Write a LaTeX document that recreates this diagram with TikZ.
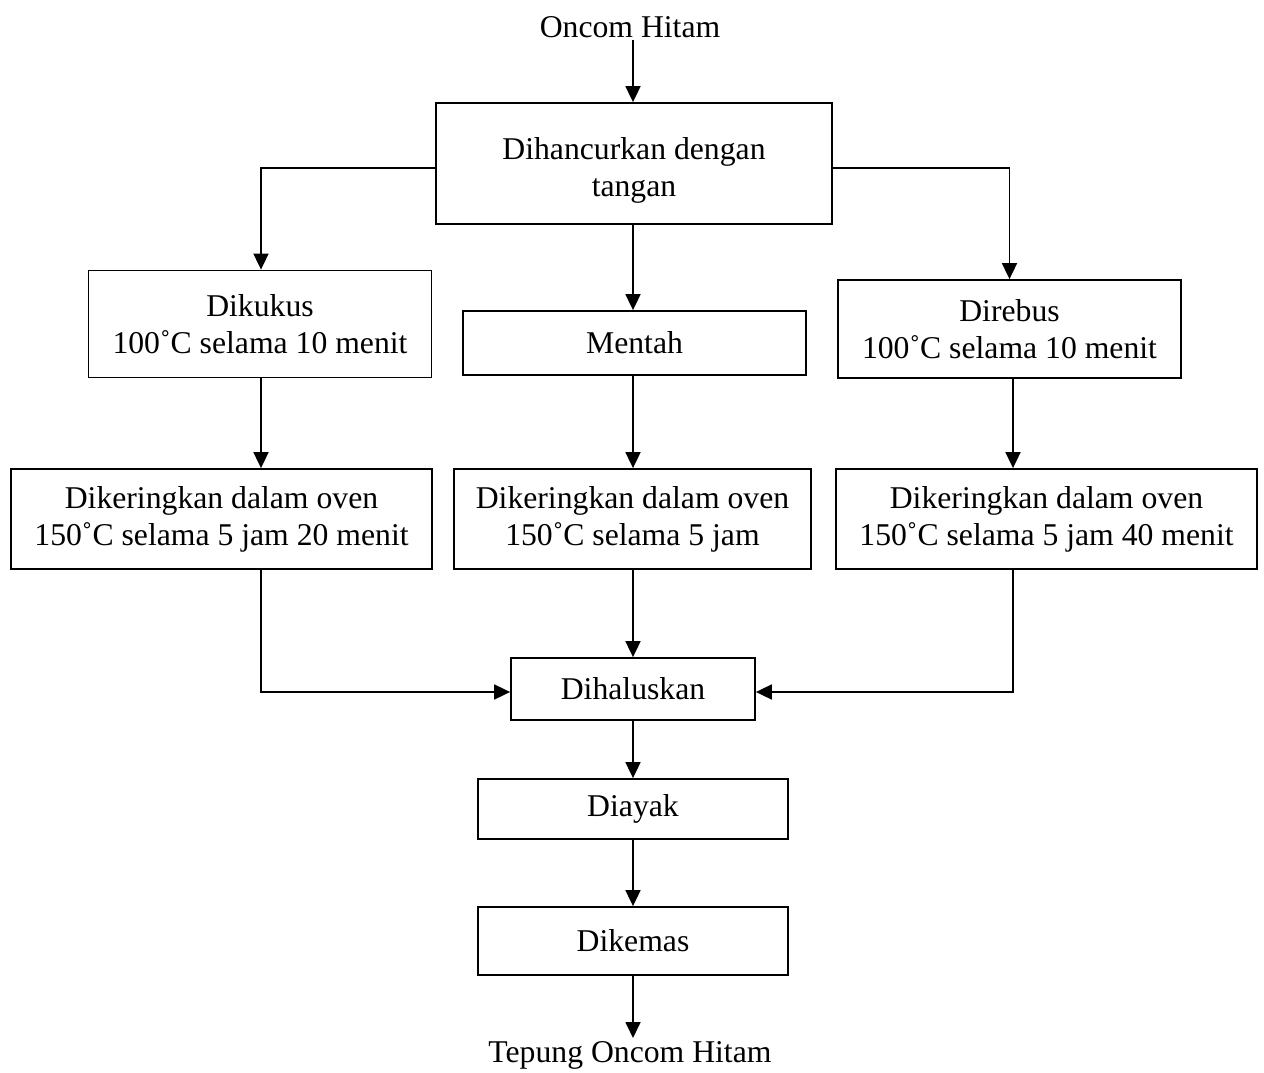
\documentclass[tikz,border=0pt]{standalone}
\usepackage{fontspec}
\setmainfont{Liberation Serif}
\usetikzlibrary{arrows.meta,positioning}
\tikzset{
  box/.style={draw, line width=1.8pt, align=center, inner sep=0pt, font=\fontsize{31.7}{37}\selectfont},
  lbl/.style={align=center, inner sep=0pt, font=\fontsize{31.7}{37}\selectfont},
  arr/.style={line width=1.8pt, -{Triangle[length=16pt,width=15pt]}},
  ln/.style={line width=1.8pt}
}
\begin{document}
\begin{tikzpicture}[x=1pt,y=-1pt]
\useasboundingbox (0,0) rectangle (1264,1073);
\node[lbl] (oncom) at (630,27) {Oncom Hitam};
\node[box, minimum width=396pt, minimum height=121pt] (top) at (634,163.5) {\rule{0pt}{36pt}Dihancurkan dengan\\tangan};
\node[box, minimum width=343pt, minimum height=107pt] (dikukus) at (260,324) {Dikukus\\100˚C selama 10 menit};
\node[box, minimum width=343pt, minimum height=64pt] (mentah) at (634.5,343) {Mentah};
\node[box, minimum width=343pt, minimum height=98pt] (direbus) at (1009.5,329) {Direbus\\100˚C selama 10 menit};
\node[box, minimum width=421pt, minimum height=100pt] (dka) at (221.5,519) {Dikeringkan dalam oven\\150˚C selama 5 jam 20 menit};
\node[box, minimum width=357pt, minimum height=100pt] (dkb) at (632.5,519) {Dikeringkan dalam oven\\150˚C selama 5 jam};
\node[box, minimum width=421pt, minimum height=100pt] (dkc) at (1046.5,519) {Dikeringkan dalam oven\\150˚C selama 5 jam 40 menit};
\node[box, minimum width=244pt, minimum height=62pt] (halus) at (633,689) {Dihaluskan};
\node[box, minimum width=310pt, minimum height=60pt] (ayak) at (633,809) {Diayak};
\node[box, minimum width=310pt, minimum height=68pt] (kemas) at (633,941) {Dikemas};
\node[lbl] (tepung) at (630,1055) {Tepung Oncom Hitam};

\coordinate (c0) at (633,40);
\coordinate (c1) at (633,1038);
\coordinate (cl) at (436,168);
\coordinate (cr) at (832,168);
\coordinate (xl) at (261,0);
\coordinate (xr) at (1013,0);
\coordinate (yh) at (0,692);

\draw[arr] (c0) -- (c0 |- top.north);
\draw[arr] (cl) -| (xl |- dikukus.north);
\draw[arr] (cr) -| (direbus.north);
\draw[arr] (top.south -| c0) -- (c0 |- mentah.north);
\draw[arr] (xl |- dikukus.south) -- (xl |- dka.north);
\draw[arr] (c0 |- mentah.south) -- (c0 |- dkb.north);
\draw[arr] (xr |- direbus.south) -- (xr |- dkc.north);
\draw[arr] (xl |- dka.south) |- (halus.west |- yh);
\draw[arr] (xr |- dkc.south) |- (halus.east |- yh);
\draw[arr] (c0 |- dkb.south) -- (c0 |- halus.north);
\draw[arr] (c0 |- halus.south) -- (c0 |- ayak.north);
\draw[arr] (c0 |- ayak.south) -- (c0 |- kemas.north);
\draw[arr] (c0 |- kemas.south) -- (c1);
\end{tikzpicture}
\end{document}
